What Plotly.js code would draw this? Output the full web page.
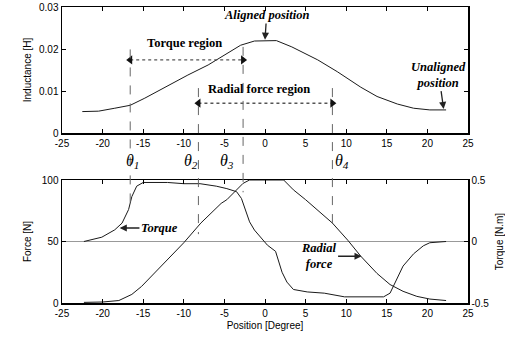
<!DOCTYPE html>
<html><head><meta charset="utf-8">
<script src="https://cdn.plot.ly/plotly-3.0.1.min.js"></script>
<style>html,body{margin:0;padding:0;background:#fff}#chart{width:505px;height:338px}</style>
</head><body><div id="chart"></div>
<script>
// ---- data ----
const posL = [-22.5,-20.5,-18.5,-16.6,-14.8,-12,-9.5,-7,-4.6,-3,-1.3,0,1.4,3.3,6.5,8.9,11.8,13.8,16.3,18.3,20.3,22.3];
const inductance = [0.0051,0.0052,0.0059,0.0066,0.0083,0.0113,0.0138,0.0162,0.019,0.0209,0.0219,0.022,0.022,0.0205,0.0174,0.0146,0.0109,0.0087,0.0069,0.0059,0.0055,0.0055];

const posF = [-22.3,-20,-18,-16.4,-15.2,-12.8,-10,-7.9,-5.4,-4.7,-3.8,-2.7,-1.9,2.3,3.5,5,8.3,10.2,11.8,13.8,15.4,17,18.7,20.3,22.3];
const radialForce = [0.5,0.8,2,7,13.5,30,49,65,81,84,90,97.3,100,100,92,84,65,51,38,24,15,9.5,5.4,3.2,2];

const posT = [-22.3,-20.1,-18.5,-17.6,-16.8,-16.4,-15.8,-15,-12,-10,-8,-6,-4.7,-3.5,-2.9,-2.5,-1.9,-1.3,-0.3,0.3,1.3,1.7,2.1,2.7,3.5,5.2,7.3,9.8,11.8,14.6,15.4,16.2,17,18.3,19.5,20.3,22.3];
const torque = [0,0.035,0.095,0.15,0.26,0.365,0.45,0.48,0.48,0.47,0.47,0.45,0.43,0.405,0.35,0.27,0.16,0.093,0.012,-0.03,-0.08,-0.16,-0.25,-0.33,-0.39,-0.41,-0.42,-0.45,-0.45,-0.45,-0.42,-0.31,-0.2,-0.1,-0.035,-0.01,0];

const thetaPos = [-16.6,-8.2,-2.7,8.3];
const thetaNames = ['θ<sub>1</sub>','θ<sub>2</sub>','θ<sub>3</sub>','θ<sub>4</sub>'];
const thetaTopL = [0.0199,0.0107,0.0205,0.0107];
const thetaBotF = [78,56,90,65];
const regionNames = ['Torque region','Radial force region'];

const xTickVals = [-25,-20,-15,-10,-5,0,5,10,15,20,25];
const xTickText = ['-25','-20','-15','-10','-5','0','5','10','15','20','25'];
const lTickVals = [0,0.01,0.02,0.03];
const lTickText = ['0','0.01','0.02','0.03'];
const fTickVals = [0,50,100];
const fTickText = ['0','50','100'];
const tTickVals = [-0.5,0,0.5];
const tTickText = ['-0.5','0','0.5'];

// ---- layout ----
const topDom = [0.5743, 1];
const botDom = [0, 0.4155];
const LRange = [0, 0.03], FRange = [0, 100], TRange = [-0.5, 0.5];
function paperTop(v){ return topDom[0] + (v-LRange[0])/(LRange[1]-LRange[0])*(topDom[1]-topDom[0]); }
function paperBot(v){ return botDom[0] + (v-FRange[0])/(FRange[1]-FRange[0])*(botDom[1]-botDom[0]); }

const tickFont = {family:'Arial, "Liberation Sans", sans-serif', size:10, color:'#000'};
const titleFont = {family:'Arial, "Liberation Sans", sans-serif', size:10, color:'#000'};
const serifB = {family:'"Liberation Serif", "Times New Roman", serif', size:12.5, color:'#000'};
const axBase = {showline:true, linecolor:'#000', linewidth:1.5, ticks:'inside', ticklen:4, tickcolor:'#000',
  showgrid:false, zeroline:false, tickfont:tickFont};

const lineStyle = {color:'#1a1a1a', width:1};
const traces = [
  {x:posL, y:inductance, xaxis:'x', yaxis:'y', mode:'lines', line:lineStyle, hoverinfo:'skip'},
  {x:posF, y:radialForce, xaxis:'x2', yaxis:'y2', mode:'lines', line:lineStyle, hoverinfo:'skip'},
  {x:posT, y:torque, xaxis:'x2', yaxis:'y3', mode:'lines', line:lineStyle, hoverinfo:'skip'}
];
// double-headed region arrows (theta1 -> theta3, theta2 -> theta4)
const regionArrowY = [0.0174, 0.0071];
[[0,2],[1,3]].forEach((p,k)=>{
  traces.push({x:[thetaPos[p[0]], thetaPos[p[1]]], y:[regionArrowY[k], regionArrowY[k]], xaxis:'x', yaxis:'y',
    mode:'lines+markers', line:{color:'#555', width:1.4, dash:'dot'},
    marker:{symbol:['triangle-left','triangle-right'], size:8, color:'#111'}, hoverinfo:'skip', cliponaxis:false});
});

const shapes = thetaPos.map((t,i)=>({type:'line', xref:'x', yref:'paper', x0:t, x1:t,
  y0:paperTop(thetaTopL[i]), y1:paperBot(thetaBotF[i]), line:{color:'#666', width:1, dash:'dash'}, layer:'above'}));

function labelArrow(xr, yr, tx, ty, x, y, text){
  return {xref:xr, yref:yr, axref:xr, ayref:yr, x:x, y:y, ax:tx, ay:ty, text:text, showarrow:true,
    arrowhead:2, arrowsize:1.1, arrowwidth:1.3, arrowcolor:'#222', standoff:0, font:serifB};
}
const annotations = [
  {xref:'x', yref:'y', x:-9.9, y:0.0214, text:'<b>'+regionNames[0]+'</b>', showarrow:false, font:serifB},
  {xref:'x', yref:'y', x:-0.8, y:0.0105, text:'<b>'+regionNames[1]+'</b>', showarrow:false, font:serifB},
  labelArrow('x','y', 0.2, 0.0281, 0.0, 0.0222, '<b><i>Aligned position</i></b>'),
  labelArrow('x','y', 21.4, 0.0139, 22.0, 0.0057, '<b><i>Unaligned<br>position</i></b>'),
  labelArrow('x2','y2', -13, 61, -17.9, 61, '<b><i>Torque</i></b>'),
  labelArrow('x2','y2', 6.6, 38, 11.9, 38, '<b><i>Radial<br>force</i></b>')
];
const thetaOffset = [0.3, -0.9, -2.0, 1.2];
thetaPos.forEach((t,i)=>annotations.push({xref:'x', yref:'paper', x:t+thetaOffset[i], y:0.478, text:'<i>'+thetaNames[i]+'</i>',
  showarrow:false, font:{family:'"Liberation Serif", "Times New Roman", serif', size:16, color:'#000'}}));

const layout = {
  width:505, height:338, margin:{l:62, r:37, t:7, b:35}, showlegend:false,
  paper_bgcolor:'#fff', plot_bgcolor:'#fff',
  xaxis: Object.assign({}, axBase, {domain:[0,1], range:[-25,25], anchor:'y', mirror:'ticks', tickvals:xTickVals, ticktext:xTickText}),
  yaxis: Object.assign({}, axBase, {domain:topDom, range:LRange, anchor:'x', mirror:'ticks', tickvals:lTickVals, ticktext:lTickText,
    title:{text:'Inductance [H]', font:titleFont}}),
  xaxis2: Object.assign({}, axBase, {domain:[0,1], range:[-25,25], anchor:'y2', mirror:'ticks', tickvals:xTickVals, ticktext:xTickText,
    title:{text:'Position [Degree]', font:titleFont, standoff:4}}),
  yaxis2: Object.assign({}, axBase, {domain:botDom, range:FRange, anchor:'x2', tickvals:fTickVals, ticktext:fTickText,
    title:{text:'Force [N]', font:titleFont}}),
  yaxis3: Object.assign({}, axBase, {overlaying:'y2', side:'right', range:TRange, anchor:'x2', tickvals:tTickVals, ticktext:tTickText,
    zeroline:true, zerolinecolor:'#999', zerolinewidth:1, title:{text:'Torque [N.m]', font:titleFont}}),
  shapes: shapes,
  annotations: annotations
};
Plotly.newPlot('chart', traces, layout, {displayModeBar:false, staticPlot:true});
</script>
</body></html>
